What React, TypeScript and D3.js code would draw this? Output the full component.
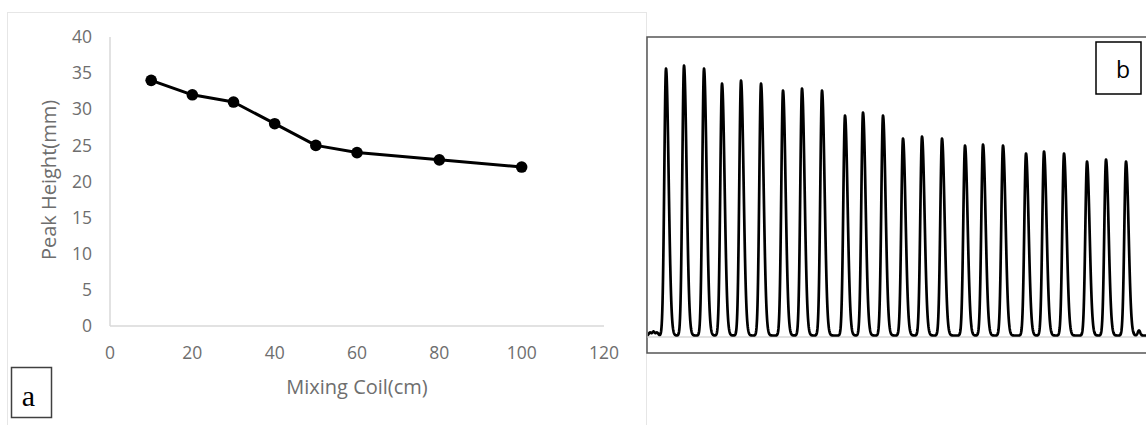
import React from "react";
import * as d3 from "d3";

// ---- Panel a data ----
const coilLengths = [10, 20, 30, 40, 50, 60, 80, 100];
const peakHeightsMm = [34, 32, 31, 28, 25, 24, 23, 22];
const xTicks = [0, 20, 40, 60, 80, 100, 120];
const yTicks = [0, 5, 10, 15, 20, 25, 30, 35, 40];

// ---- Panel b data (signal trace, arbitrary units) ----
const peakTimes = [19, 37, 57, 75, 94, 114, 136, 155, 175, 198, 216, 236, 256, 275, 295, 318, 336, 356, 379, 397, 417, 440, 459, 479];
const peakSignals = [267, 270, 267, 252, 255, 252, 245, 247, 245, 220, 223, 220, 197, 199, 197, 190, 191, 190, 182, 184, 182, 174, 176, 174];
const bumpTimes = [3, 6.5, 10, 492];
const bumpSignals = [3, 4, 3, 5];

const W = 1146;
const H = 425;

export default function App() {
  // panel a scales
  const x = d3.scaleLinear().domain([0, 120]).range([110, 604]);
  const y = d3.scaleLinear().domain([0, 40]).range([326, 37]);
  const pts = coilLengths.map((c, i) => [c, peakHeightsMm[i]] as [number, number]);
  const line = d3.line<[number, number]>().x((d) => x(d[0])).y((d) => y(d[1]));

  // panel b scales
  const tx = d3.scaleLinear().domain([0, 500]).range([647, 1147]);
  const sy = d3.scaleLinear().domain([-16, 300]).range([353, 37]);
  const sigL = 1.7;
  const sigR = 2.6;
  const samples: [number, number][] = [];
  for (let t = 0; t <= 500; t += 0.25) {
    let v = 0;
    peakTimes.forEach((p, i) => {
      const d = t - p;
      const s = d < 0 ? sigL : sigR;
      v += peakSignals[i] * Math.exp(-(d * d) / (2 * s * s));
    });
    bumpTimes.forEach((b, i) => {
      const d = t - b;
      v += bumpSignals[i] * Math.exp(-(d * d) / (2 * 1.2 * 1.2));
    });
    samples.push([t, v]);
  }
  const trace = d3.line<[number, number]>().x((d) => tx(d[0])).y((d) => sy(d[1]) - 1.5);

  const grey = "#6e6e6e";
  const font = "'Open Sans', sans-serif";

  return (
    <svg width={W} height={H} style={{ position: "absolute", left: 0, top: 0, background: "#fff" }}>
      <rect x={0} y={0} width={W} height={H} fill="#fff" />
      {/* panel a outer frame */}
      <rect x={7.5} y={12.5} width={639} height={460} fill="none" stroke="#e6e6e6" strokeWidth={1} />
      {/* axes */}
      <line x1={x(0)} x2={x(0)} y1={y(40)} y2={y(0)} stroke="#d9d9d9" strokeWidth={1.5} />
      <line x1={x(0)} x2={x(120)} y1={y(0)} y2={y(0)} stroke="#d9d9d9" strokeWidth={1.5} />
      {yTicks.map((t) => (
        <text key={"y" + t} x={92} y={y(t)} dy="0.35em" textAnchor="end" fontFamily={font} fontSize={17.5} fill={grey}>
          {t}
        </text>
      ))}
      {xTicks.map((t) => (
        <text key={"x" + t} x={x(t)} y={359} textAnchor="middle" fontFamily={font} fontSize={17.5} fill={grey}>
          {t}
        </text>
      ))}
      <text x={357} y={394} textAnchor="middle" fontFamily={font} fontSize={20} fill={grey}>
        Mixing Coil(cm)
      </text>
      <text transform="translate(56,180) rotate(-90)" textAnchor="middle" fontFamily={font} fontSize={20} fill={grey}>
        Peak Height(mm)
      </text>
      <path d={line(pts) || ""} fill="none" stroke="#000" strokeWidth={3} strokeLinejoin="round" />
      {pts.map((p, i) => (
        <circle key={i} cx={x(p[0])} cy={y(p[1])} r={5.8} fill="#000" />
      ))}
      {/* label a */}
      <rect x={11.5} y={367.5} width={40} height={50} fill="#fff" stroke="#404040" strokeWidth={1.5} />
      <text x={28.5} y={406} textAnchor="middle" fontFamily="'Liberation Serif', serif" fontSize={30} fill="#000">
        a
      </text>

      {/* panel b */}
      <rect x={647} y={37} width={520} height={316} fill="#fff" stroke="#555" strokeWidth={1.5} />
      <line x1={647} x2={1146} y1={sy(0)} y2={sy(0)} stroke="#c4c4c4" strokeWidth={1.2} />
      <clipPath id="clipb">
        <rect x={648} y={38} width={500} height={314} />
      </clipPath>
      <path d={trace(samples) || ""} fill="none" stroke="#000" strokeWidth={2.7} strokeLinejoin="round" clipPath="url(#clipb)" />
      <rect x={1096} y={42} width={45} height={52} fill="#fff" stroke="#000" strokeWidth={1.5} />
      <text x={1123} y={78} textAnchor="middle" fontFamily={font} fontSize={23} fill="#000">
        b
      </text>
    </svg>
  );
}
